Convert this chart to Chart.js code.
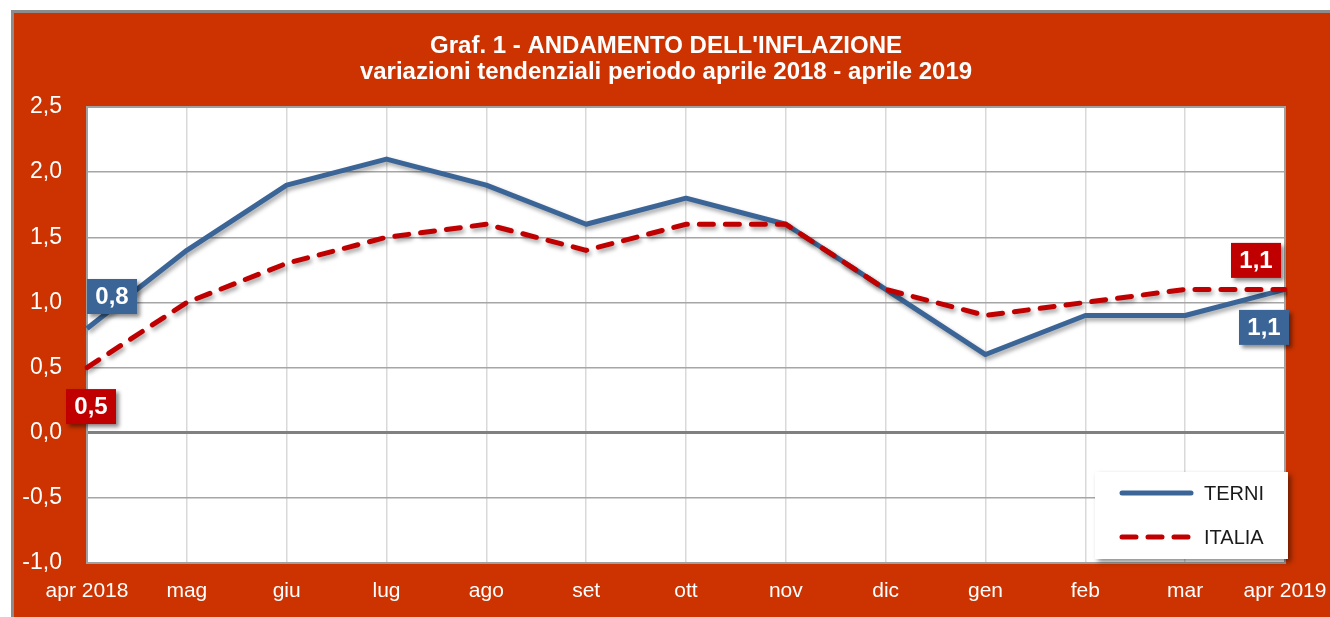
<!DOCTYPE html>
<html><head><meta charset="utf-8">
<script src="https://cdn.jsdelivr.net/npm/chart.js@4.4.1/dist/chart.umd.min.js"></script>
<style>html,body{margin:0;padding:0;background:#fff;overflow:hidden}#wrap{width:1330px;height:617px;position:relative}canvas{display:block}</style>
</head><body><div id="wrap"><canvas id="c" width="1330" height="617"></canvas></div>
<script>
const categories = ['apr 2018','mag','giu','lug','ago','set','ott','nov','dic','gen','feb','mar','apr 2019'];
const terni = [0.8,1.4,1.9,2.1,1.9,1.6,1.8,1.6,1.1,0.6,0.9,0.9,1.1];
const italia = [0.5,1.0,1.3,1.5,1.6,1.4,1.6,1.6,1.1,0.9,1.0,1.1,1.1];
const yMin = -1.0, yMax = 2.5, yStep = 0.5;
const seriesNames = ['TERNI','ITALIA'];
const titleLines = ["Graf. 1 - ANDAMENTO DELL'INFLAZIONE","variazioni tendenziali periodo aprile 2018 - aprile 2019"];

const BG = '#CC3300', BLUE = '#3B6597', RED = '#C00000';
const FONT = '"Liberation Sans", Arial, sans-serif';
const fmt = v => Number(v).toFixed(1).replace('.', ',');

const framePlugin = {
  id: 'frame',
  beforeDraw(chart) {
    const ctx = chart.ctx, a = chart.chartArea;
    ctx.save();
    ctx.fillStyle = '#fff'; ctx.fillRect(0, 0, chart.width, chart.height);
    ctx.fillStyle = '#8C8C8C'; ctx.fillRect(11, 10, chart.width - 11, chart.height - 10);
    ctx.fillStyle = BG; ctx.fillRect(14, 13, chart.width - 14, chart.height - 13);
    ctx.fillStyle = '#fff'; ctx.fillRect(a.left, a.top, a.right - a.left, a.bottom - a.top);
    // title
    ctx.fillStyle = '#fff';
    ctx.font = 'bold 24px ' + FONT;
    ctx.textAlign = 'center'; ctx.textBaseline = 'middle';
    ctx.fillText(titleLines[0], 666, 46);
    ctx.fillText(titleLines[1], 666, 72);
    ctx.restore();
  },
  beforeDatasetsDraw(chart) {
    const ctx = chart.ctx, a = chart.chartArea;
    ctx.save();
    ctx.strokeStyle = '#A0A0A0'; ctx.lineWidth = 2;
    ctx.strokeRect(a.left, a.top, a.right - a.left, a.bottom - a.top);
    ctx.restore();
  },
  beforeDatasetDraw(chart) {
    const ctx = chart.ctx;
    ctx.save();
    ctx.shadowColor = 'rgba(0,0,0,0.35)';
    ctx.shadowBlur = 4; ctx.shadowOffsetX = 2; ctx.shadowOffsetY = 3;
  },
  afterDatasetDraw(chart) { chart.ctx.restore(); },
  afterDraw(chart) {
    const ctx = chart.ctx, xs = chart.scales.x, ys = chart.scales.y;
    const box = (cx, cy, color, text) => {
      const w = 50, h = 35;
      ctx.save();
      ctx.shadowColor = 'rgba(0,0,0,0.45)'; ctx.shadowBlur = 4; ctx.shadowOffsetX = 3; ctx.shadowOffsetY = 3;
      ctx.fillStyle = color; ctx.fillRect(cx - w/2, cy - h/2, w, h);
      ctx.restore();
      ctx.save();
      ctx.fillStyle = '#fff'; ctx.font = 'bold 24px ' + FONT;
      ctx.textAlign = 'center'; ctx.textBaseline = 'middle';
      ctx.fillText(text, cx, cy + 1);
      ctx.restore();
    };
    const last = categories.length - 1;
    const P = (i, arr) => [xs.getPixelForValue(i), ys.getPixelForValue(arr[i])];
    let [x, y] = P(0, terni); box(x + 25, y - 32, BLUE, fmt(terni[0]));
    [x, y] = P(0, italia); box(x + 4, y + 39, RED, fmt(italia[0]));
    [x, y] = P(last, italia); box(x - 29, y - 29, RED, fmt(italia[last]));
    [x, y] = P(last, terni); box(x - 21, y + 38, BLUE, fmt(terni[last]));
    // legend
    ctx.save();
    ctx.shadowColor = 'rgba(0,0,0,0.45)'; ctx.shadowBlur = 5; ctx.shadowOffsetX = 3; ctx.shadowOffsetY = 3;
    ctx.fillStyle = '#fff'; ctx.fillRect(1095, 472, 193, 87);
    ctx.restore();
    ctx.save();
    ctx.lineCap = 'round'; ctx.lineWidth = 5;
    ctx.strokeStyle = BLUE; ctx.beginPath(); ctx.moveTo(1122, 493); ctx.lineTo(1191, 493); ctx.stroke();
    ctx.strokeStyle = RED; ctx.setLineDash([14, 12]); ctx.beginPath(); ctx.moveTo(1122, 537); ctx.lineTo(1191, 537); ctx.stroke();
    ctx.setLineDash([]);
    ctx.fillStyle = '#1a1a1a'; ctx.font = '20px ' + FONT; ctx.textAlign = 'left'; ctx.textBaseline = 'middle';
    ctx.fillText(seriesNames[0], 1204, 494);
    ctx.fillText(seriesNames[1], 1204, 538);
    ctx.restore();
  }
};

new Chart(document.getElementById('c'), {
  type: 'line',
  data: {
    labels: categories,
    datasets: [
      { label: seriesNames[0], data: terni, borderColor: BLUE, borderWidth: 5, pointRadius: 0, tension: 0, order: 2, borderJoinStyle: 'round' },
      { label: seriesNames[1], data: italia, borderColor: RED, borderWidth: 5, borderDash: [14, 12], borderCapStyle: 'round', pointRadius: 0, tension: 0, order: 1 }
    ]
  },
  options: {
    responsive: false, animation: false, devicePixelRatio: 1,
    layout: { padding: { top: 107, right: 45, left: 0, bottom: 0 } },
    plugins: { legend: { display: false }, tooltip: { enabled: false }, title: { display: false } },
    scales: {
      x: {
        offset: false,
        grid: { color: '#D9D9D9', lineWidth: 1.5, drawTicks: false, offset: false },
        border: { display: false },
        ticks: { color: '#fff', font: { family: FONT, size: 21 }, padding: 16, maxRotation: 0, autoSkip: false },
        afterFit(s) { s.height = 54; s.paddingLeft = 0; s.paddingRight = 0; }
      },
      y: {
        min: yMin, max: yMax,
        grid: {
          drawTicks: false,
          color: c => c.tick && c.tick.value === 0 ? '#808080' : '#A6A6A6',
          lineWidth: c => c.tick && c.tick.value === 0 ? 3 : 1.5
        },
        border: { display: false },
        ticks: { stepSize: yStep, color: '#fff', font: { family: FONT, size: 23 }, padding: 25, callback: v => fmt(v) },
        afterFit(s) { s.width = 87; s.paddingTop = 0; s.paddingBottom = 0; }
      }
    }
  },
  plugins: [framePlugin]
});
</script>
</body></html>
